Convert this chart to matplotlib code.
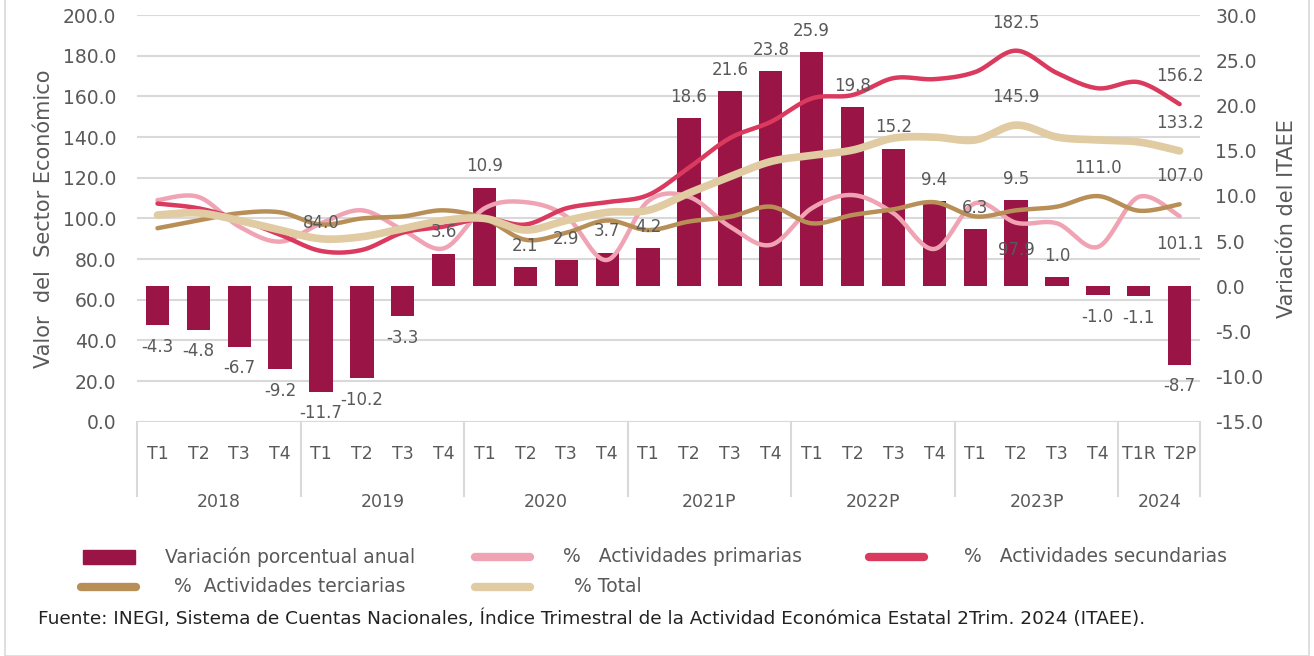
import numpy as np
import matplotlib
matplotlib.use('Agg')
import matplotlib.pyplot as plt
from matplotlib.lines import Line2D
from matplotlib.patches import Rectangle

plt.rcParams['font.family'] = ['DejaVu Sans']

quarters = ['T1', 'T2', 'T3', 'T4'] * 6 + ['T1R', 'T2P']
years = ['2018', '2019', '2020', '2021P', '2022P', '2023P', '2024']
year_len = [4, 4, 4, 4, 4, 4, 2]

variacion = [-4.3, -4.8, -6.7, -9.2, -11.7, -10.2, -3.3, 3.6, 10.9, 2.1, 2.9, 3.7,
             4.2, 18.6, 21.6, 23.8, 25.9, 19.8, 15.2, 9.4, 6.3, 9.5, 1.0, -1.0, -1.1, -8.7]
primarias = [109.0, 110.6, 96.0, 88.6, 97.6, 104.0, 94.3, 85.3, 105.0, 108.0, 101.0, 79.6,
             108.5, 110.6, 96.0, 87.0, 105.0, 111.5, 102.6, 85.0, 107.5, 97.9, 97.6, 86.0, 110.6, 101.1]
secundarias = [107.3, 105.0, 99.5, 92.0, 84.0, 84.5, 93.0, 96.0, 100.0, 97.0, 105.0, 108.0,
               111.5, 125.0, 139.5, 147.5, 159.0, 160.7, 169.0, 168.5, 172.0, 182.5, 171.5, 164.0, 167.0, 156.2]
terciarias = [95.2, 99.0, 102.6, 103.0, 97.0, 100.0, 101.0, 104.0, 100.0, 89.5, 93.0, 99.0,
              94.3, 98.5, 100.8, 105.8, 97.6, 101.7, 104.5, 108.0, 101.0, 104.0, 105.8, 111.0, 103.8, 107.0]
total = [101.7, 102.7, 99.0, 94.3, 90.0, 91.0, 95.0, 99.0, 100.0, 94.3, 99.0, 103.0,
         104.0, 112.5, 120.5, 128.0, 131.0, 133.6, 139.5, 140.0, 138.6, 145.9, 140.0, 138.6, 137.6, 133.2]

# which points get a value label: (series, index, above?)
line_labels = [('sec', 4, True), ('sec', 21, True), ('sec', 25, True),
               ('tot', 21, True), ('tot', 25, True),
               ('ter', 23, True), ('ter', 25, True),
               ('pri', 21, False), ('pri', 25, False)]

C_BAR = '#9B1446'
C_PRI = '#EFA3B3'
C_SEC = '#D93A5E'
C_TER = '#B98F58'
C_TOT = '#E0CBA2'
C_TXT = '#595959'
C_GRID = '#D9D9D9'


def smooth(x, y, n=24):
    # catmull-rom style curve through the points, like excel smoothed lines
    x = np.asarray(x, float)
    y = np.asarray(y, float)
    px = np.concatenate([[x[0]], x, [x[-1]]])
    py = np.concatenate([[y[0]], y, [y[-1]]])
    xs, ys = [], []
    t = np.linspace(0, 1, n)
    for i in range(1, len(px) - 2):
        p0, p1, p2, p3 = (np.array([px[j], py[j]]) for j in range(i - 1, i + 3))
        c1 = p1 + (p2 - p0) / 6
        c2 = p2 - (p3 - p1) / 6
        b = ((1 - t) ** 3)[:, None] * p1 + (3 * (1 - t) ** 2 * t)[:, None] * c1 \
            + (3 * (1 - t) * t ** 2)[:, None] * c2 + (t ** 3)[:, None] * p2
        xs.extend(b[:, 0])
        ys.extend(b[:, 1])
    return np.array(xs), np.array(ys)


fig = plt.figure(figsize=(13.14, 6.56), dpi=100)
fig.patches.append(Rectangle((0.004, 0.0), 0.992, 1.2, transform=fig.transFigure,
                             fill=False, edgecolor='#D9D9D9', lw=1.2))

ax = fig.add_axes([0.1043, 0.357, 0.809, 0.620])
ax2 = ax.twinx()
x = np.arange(len(variacion))
ax.bar(x, variacion, width=0.57, color=C_BAR, zorder=2)
ax.set_ylim(-15, 30)
ax.set_xlim(-0.5, len(variacion) - 0.5)
ax.set_yticks(np.arange(-15, 31, 5))
ax.set_yticklabels([f'{v:.1f}' for v in np.arange(-15, 31, 5)])
ax.yaxis.tick_right()
ax.yaxis.set_label_position('right')
ax.set_ylabel('Variación del ITAEE', fontsize=15, color=C_TXT, labelpad=10)
ax.tick_params(axis='y', length=0, labelsize=13.5, labelcolor=C_TXT, pad=11)
ax.set_xticks([])
for s in ax.spines.values():
    s.set_visible(False)

for i, v in enumerate(variacion):
    off = 9 if v >= 0 else -9
    ax.annotate(f'{v:.1f}', (x[i], v), xytext=(0, off), textcoords='offset points',
                ha='center', va='bottom' if v >= 0 else 'top', fontsize=12, color=C_TXT,
                zorder=5)

ax2.set_ylim(0, 200)
ax2.set_yticks(np.arange(0, 201, 20))
ax2.set_yticklabels([f'{v:.1f}' for v in np.arange(0, 201, 20)])
ax2.yaxis.tick_left()
ax2.yaxis.set_label_position('left')
ax2.set_ylabel('Valor  del  Sector Económico', fontsize=15, color=C_TXT, labelpad=6)
ax2.tick_params(axis='y', length=0, labelsize=13.5, labelcolor=C_TXT, pad=15)
ax2.grid(axis='y', color=C_GRID, lw=1.5)
ax2.set_axisbelow(True)
ax2.set_xticks([])
for s in ax2.spines.values():
    s.set_visible(False)
ax.grid(False)
ax2.set_zorder(ax.get_zorder() - 1)
ax2.patch.set_visible(False)
ax.patch.set_visible(False)

# lines drawn on bar axes in its own coordinates so they sit above bars
conv = lambda v: np.asarray(v) * 45.0 / 200.0 - 15.0
series = {'pri': (primarias, C_PRI, 3.2), 'sec': (secundarias, C_SEC, 3.2),
          'ter': (terciarias, C_TER, 3.2), 'tot': (total, C_TOT, 5.5)}
for key in ['pri', 'sec', 'ter', 'tot']:
    vals, col, lw = series[key]
    sx, sy = smooth(x, vals)
    ax.plot(sx, conv(sy), color=col, lw=lw, solid_capstyle='round', zorder=3)

for key, i, above in line_labels:
    vals = series[key][0]
    ax.annotate(f'{vals[i]:.1f}', (x[i], conv(vals[i])), xytext=(0, 20 if above else -20),
                textcoords='offset points', ha='center', va='center', fontsize=12,
                color=C_TXT, zorder=6)

# bottom axis line and two-level category labels
ax.axhline(-15, color=C_GRID, lw=1.5, zorder=1)
bt = ax.get_xaxis_transform()
for i, q in enumerate(quarters):
    ax.text(x[i], -0.08, q, transform=bt, ha='center', va='center', fontsize=12.5, color=C_TXT)
start = 0
edges = [-0.5]
for y, n in zip(years, year_len):
    ax.text(start + (n - 1) / 2, -0.196, y, transform=bt, ha='center', va='center',
            fontsize=12.5, color=C_TXT)
    start += n
    edges.append(start - 0.5)
for e in edges:
    ax.plot([e, e], [0, -0.183], transform=bt, color=C_GRID, lw=1.5, clip_on=False)

# legend
row1, row2 = 1 - 557 / 656, 1 - 587 / 656
W = 1314.0
fig.patches.append(Rectangle((83 / W, row1 - 0.010), 52 / W, 0.020, transform=fig.transFigure,
                             color=C_BAR))
fig.text(165 / W, row1, 'Variación porcentual anual', fontsize=13.5, color=C_TXT, va='center')
handles = [(475, row1, C_PRI, 563, '%   Actividades primarias'),
           (869, row1, C_SEC, 964, '%   Actividades secundarias'),
           (81, row2, C_TER, 174, '%  Actividades terciarias'),
           (475, row2, C_TOT, 574, '% Total')]
for hx, hy, col, tx, lab in handles:
    fig.lines.append(Line2D([hx / W, (hx + 55) / W], [hy, hy], transform=fig.transFigure,
                            color=col, lw=6, solid_capstyle='round'))
    fig.text(tx / W, hy, lab, fontsize=13.5, color=C_TXT, va='center')

fig.text(38 / W, 1 - 619 / 656,
         'Fuente: INEGI, Sistema de Cuentas Nacionales, Índice Trimestral de la Actividad '
         'Económica Estatal 2Trim. 2024 (ITAEE).', fontsize=13.3, color='#222222', va='center')

fig.savefig('out.png', dpi=100)
